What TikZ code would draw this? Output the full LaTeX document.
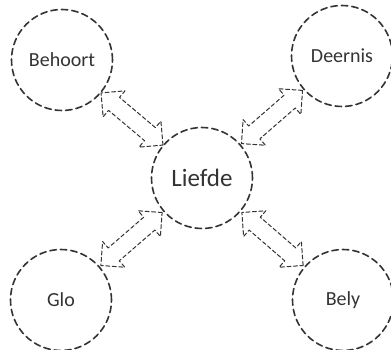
\documentclass[tikz,border=0pt]{standalone}
\usepackage{fontspec}
\setmainfont{Carlito}
\usetikzlibrary{shapes.arrows}
\definecolor{inkgray}{HTML}{333333}
\tikzset{
  bubble/.style={circle, draw=inkgray, text=inkgray, line width=1.6pt,
    dash pattern=on 6.5pt off 4pt, minimum size=101pt, inner sep=0pt,
    font=\fontsize{20}{24}\selectfont},
  dblarrow/.style={double arrow, draw=inkgray, line width=1pt,
    dash pattern=on 4pt off 2.5pt, inner xsep=0pt, inner ysep=8pt,
    double arrow head extend=8.5pt, double arrow tip angle=90,
    minimum height=81pt, sloped}
}
\begin{document}
\begin{tikzpicture}[x=1pt, y=-1pt, line join=round, line cap=round]
			\useasboundingbox (0,0) rectangle (391,350);
			\path
			(202,178) node[bubble, font=\fontsize{25}{30}\selectfont] (L) {Liefde}
			(62,60) node[bubble] (B) {Behoort}
			(342,56) node[bubble] (D) {Deernis}
			(61,300) node[bubble] (G) {Glo}
			(343,300) node[bubble] (Y) {Bely}
			;
			\foreach \p in {B,D,G,Y}
			\path (L) -- node[dblarrow]{} (\p);
			\end{tikzpicture}
\end{document}
